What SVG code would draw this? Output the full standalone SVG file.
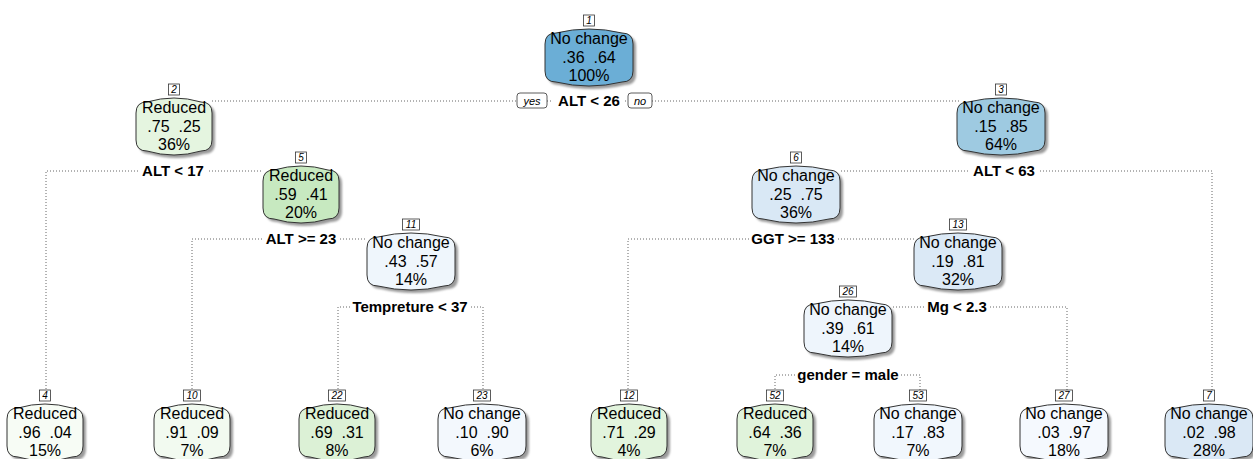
<svg xmlns="http://www.w3.org/2000/svg" xmlns:xlink="http://www.w3.org/1999/xlink" width="1253" height="459" viewBox="0 0 1253 459">
<style>
.t{font-family:"Liberation Sans",Arial,sans-serif;font-size:16px;text-anchor:middle;fill:#000;white-space:pre}
.nt{font-family:"Liberation Sans",Arial,sans-serif;font-size:10px;font-style:italic;text-anchor:middle;fill:#000}
.sl{font-family:"Liberation Sans",Arial,sans-serif;font-size:15px;font-weight:bold;text-anchor:middle;fill:#000}
.yn{font-family:"Liberation Sans",Arial,sans-serif;font-size:11px;font-style:italic;text-anchor:middle;fill:#000}
.box{stroke:#333;stroke-width:1}
.shadow{fill:#9a9a9a;stroke:none;filter:url(#blur)}
.num{fill:#fff;stroke:#333;stroke-width:0.8}
.ynb{fill:#fff;stroke:#333;stroke-width:0.8}
.c{fill:none;stroke:#666;stroke-width:1;stroke-dasharray:1 2}
</style>
<defs>
<filter id="blur" x="-10%" y="-10%" width="120%" height="120%"><feGaussianBlur stdDeviation="1"/></filter>
<path id="nc" d="M-44,15 Q-44,4 -33,4 Q0,-4 33,4 Q44,4 44,15 L44,42 Q44,53 33,53 Q0,61 -33,53 Q-44,53 -44,42 Z"/>
<path id="rd" d="M-38,15 Q-38,4 -27,4 Q0,-4 27,4 Q38,4 38,15 L38,42 Q38,53 27,53 Q0,61 -27,53 Q-38,53 -38,42 Z"/>
</defs>
<rect width="1253" height="459" fill="#fff"/>
<g id="connectors">
<path class="c" d="M212,101 H517 M547,101 H553 M625,101 H628 M652,101 H961"/>
<path class="c" d="M46,392 V171 H138 M209,171 H263"/>
<path class="c" d="M192,392 V239 H262 M340,239 H367"/>
<path class="c" d="M338,392 V307 H350 M471,307 H483 V392"/>
<path class="c" d="M841,171 H969 M1040,171 H1212 V392"/>
<path class="c" d="M628,392 V239 H749 M838,239 H914"/>
<path class="c" d="M893,307 H925 M990,307 H1067 V392"/>
<path class="c" d="M775,392 V375 H795 M901,375 H920 V392"/>
<rect class="ynb" x="517" y="93" width="30" height="15" rx="3"/>
<text class="yn" x="532" y="104.5">yes</text>
<rect class="ynb" x="628" y="93" width="24" height="15" rx="3"/>
<text class="yn" x="640" y="104.5">no</text>
<text class="sl" x="589" y="106">ALT &lt; 26</text>
<text class="sl" x="173" y="176">ALT &lt; 17</text>
<text class="sl" x="301" y="244">ALT &gt;= 23</text>
<text class="sl" x="410" y="312">Tempreture &lt; 37</text>
<text class="sl" x="1004" y="176">ALT &lt; 63</text>
<text class="sl" x="793" y="244">GGT &gt;= 133</text>
<text class="sl" x="957" y="312">Mg &lt; 2.3</text>
<text class="sl" x="848" y="380">gender = male</text>
</g>
<g id="node1" transform="translate(589,29)">
<use href="#nc" class="shadow" x="3" y="3"/><use href="#nc" class="box" fill="#6baed6"/>
<rect class="num" x="-5.5" y="-14" width="11" height="11"/><text class="nt" y="-5">1</text>
<text class="t" y="15">No change</text><text class="t" y="34">.36  .64</text><text class="t" y="52">100%</text>
</g>
<g id="node2" transform="translate(174,98)">
<use href="#rd" class="shadow" x="3" y="3"/><use href="#rd" class="box" fill="#e5f5e0"/>
<rect class="num" x="-5.5" y="-14" width="11" height="11"/><text class="nt" y="-5">2</text>
<text class="t" y="15">Reduced</text><text class="t" y="34">.75  .25</text><text class="t" y="52">36%</text>
</g>
<g id="node3" transform="translate(1001,98)">
<use href="#nc" class="shadow" x="3" y="3"/><use href="#nc" class="box" fill="#9ecae1"/>
<rect class="num" x="-5.5" y="-14" width="11" height="11"/><text class="nt" y="-5">3</text>
<text class="t" y="15">No change</text><text class="t" y="34">.15  .85</text><text class="t" y="52">64%</text>
</g>
<g id="node5" transform="translate(301,166)">
<use href="#rd" class="shadow" x="3" y="3"/><use href="#rd" class="box" fill="#c7e9c0"/>
<rect class="num" x="-5.5" y="-14" width="11" height="11"/><text class="nt" y="-5">5</text>
<text class="t" y="15">Reduced</text><text class="t" y="34">.59  .41</text><text class="t" y="52">20%</text>
</g>
<g id="node6" transform="translate(796,166)">
<use href="#nc" class="shadow" x="3" y="3"/><use href="#nc" class="box" fill="#d9e8f5"/>
<rect class="num" x="-5.5" y="-14" width="11" height="11"/><text class="nt" y="-5">6</text>
<text class="t" y="15">No change</text><text class="t" y="34">.25  .75</text><text class="t" y="52">36%</text>
</g>
<g id="node11" transform="translate(411,233)">
<use href="#nc" class="shadow" x="3" y="3"/><use href="#nc" class="box" fill="#eff6fc"/>
<rect class="num" x="-8.5" y="-14" width="17" height="11"/><text class="nt" y="-5">11</text>
<text class="t" y="15">No change</text><text class="t" y="34">.43  .57</text><text class="t" y="52">14%</text>
</g>
<g id="node13" transform="translate(958,233)">
<use href="#nc" class="shadow" x="3" y="3"/><use href="#nc" class="box" fill="#dbe9f6"/>
<rect class="num" x="-8.5" y="-14" width="17" height="11"/><text class="nt" y="-5">13</text>
<text class="t" y="15">No change</text><text class="t" y="34">.19  .81</text><text class="t" y="52">32%</text>
</g>
<g id="node26" transform="translate(848,300)">
<use href="#nc" class="shadow" x="3" y="3"/><use href="#nc" class="box" fill="#eef5fc"/>
<rect class="num" x="-8.5" y="-14" width="17" height="11"/><text class="nt" y="-5">26</text>
<text class="t" y="15">No change</text><text class="t" y="34">.39  .61</text><text class="t" y="52">14%</text>
</g>
<g id="node4" transform="translate(45,404)">
<use href="#rd" class="shadow" x="3" y="3"/><use href="#rd" class="box" fill="#f7fcf5"/>
<rect class="num" x="-5.5" y="-14" width="11" height="11"/><text class="nt" y="-5">4</text>
<text class="t" y="15">Reduced</text><text class="t" y="34">.96  .04</text><text class="t" y="52">15%</text>
</g>
<g id="node10" transform="translate(192,404)">
<use href="#rd" class="shadow" x="3" y="3"/><use href="#rd" class="box" fill="#f2faf0"/>
<rect class="num" x="-8.5" y="-14" width="17" height="11"/><text class="nt" y="-5">10</text>
<text class="t" y="15">Reduced</text><text class="t" y="34">.91  .09</text><text class="t" y="52">7%</text>
</g>
<g id="node22" transform="translate(337,404)">
<use href="#rd" class="shadow" x="3" y="3"/><use href="#rd" class="box" fill="#dcf1d6"/>
<rect class="num" x="-8.5" y="-14" width="17" height="11"/><text class="nt" y="-5">22</text>
<text class="t" y="15">Reduced</text><text class="t" y="34">.69  .31</text><text class="t" y="52">8%</text>
</g>
<g id="node23" transform="translate(482,404)">
<use href="#nc" class="shadow" x="3" y="3"/><use href="#nc" class="box" fill="#f3f8fd"/>
<rect class="num" x="-8.5" y="-14" width="17" height="11"/><text class="nt" y="-5">23</text>
<text class="t" y="15">No change</text><text class="t" y="34">.10  .90</text><text class="t" y="52">6%</text>
</g>
<g id="node12" transform="translate(629,404)">
<use href="#rd" class="shadow" x="3" y="3"/><use href="#rd" class="box" fill="#e2f4dd"/>
<rect class="num" x="-8.5" y="-14" width="17" height="11"/><text class="nt" y="-5">12</text>
<text class="t" y="15">Reduced</text><text class="t" y="34">.71  .29</text><text class="t" y="52">4%</text>
</g>
<g id="node52" transform="translate(775,404)">
<use href="#rd" class="shadow" x="3" y="3"/><use href="#rd" class="box" fill="#e0f3db"/>
<rect class="num" x="-8.5" y="-14" width="17" height="11"/><text class="nt" y="-5">52</text>
<text class="t" y="15">Reduced</text><text class="t" y="34">.64  .36</text><text class="t" y="52">7%</text>
</g>
<g id="node53" transform="translate(918,404)">
<use href="#nc" class="shadow" x="3" y="3"/><use href="#nc" class="box" fill="#f1f7fd"/>
<rect class="num" x="-8.5" y="-14" width="17" height="11"/><text class="nt" y="-5">53</text>
<text class="t" y="15">No change</text><text class="t" y="34">.17  .83</text><text class="t" y="52">7%</text>
</g>
<g id="node27" transform="translate(1064,404)">
<use href="#nc" class="shadow" x="3" y="3"/><use href="#nc" class="box" fill="#f5f9fe"/>
<rect class="num" x="-8.5" y="-14" width="17" height="11"/><text class="nt" y="-5">27</text>
<text class="t" y="15">No change</text><text class="t" y="34">.03  .97</text><text class="t" y="52">18%</text>
</g>
<g id="node7" transform="translate(1209,404)">
<use href="#nc" class="shadow" x="3" y="3"/><use href="#nc" class="box" fill="#dae8f5"/>
<rect class="num" x="-5.5" y="-14" width="11" height="11"/><text class="nt" y="-5">7</text>
<text class="t" y="15">No change</text><text class="t" y="34">.02  .98</text><text class="t" y="52">28%</text>
</g>
</svg>
